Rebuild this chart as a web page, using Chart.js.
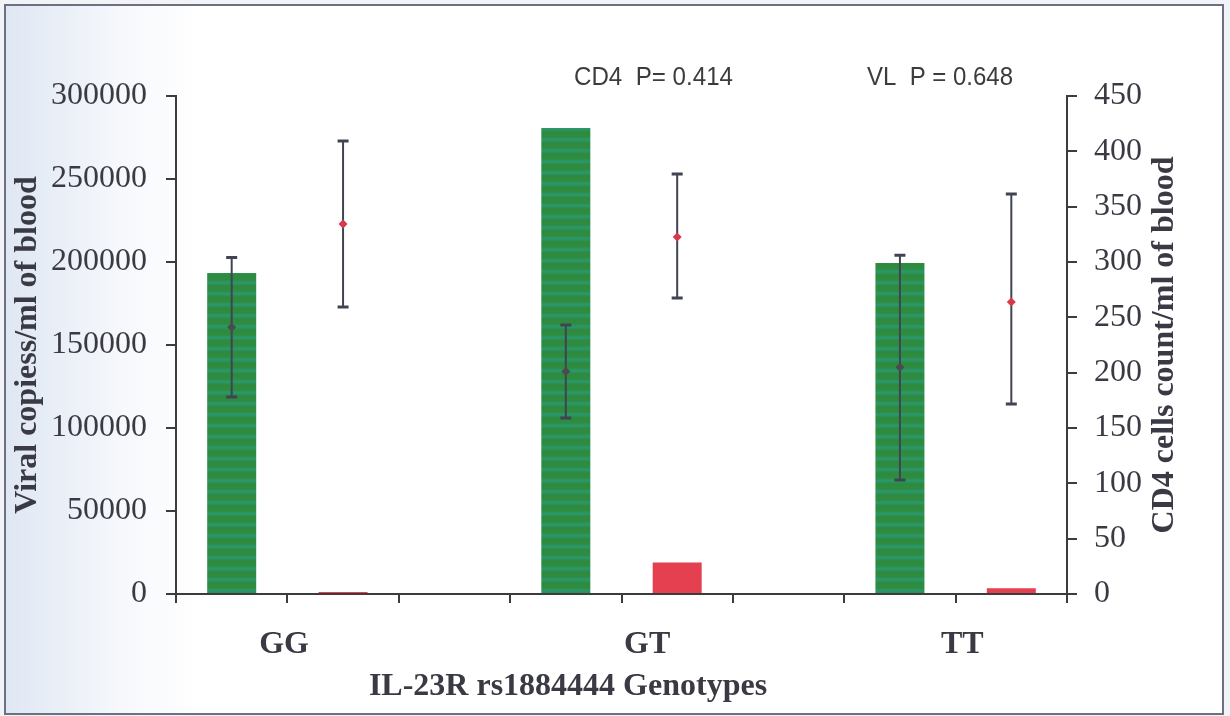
<!DOCTYPE html>
<html><head><meta charset="utf-8">
<script src="https://cdn.jsdelivr.net/npm/chart.js@4.4.1/dist/chart.umd.min.js"></script>
<style>html,body{margin:0;padding:0;background:#fff}#wrap{width:1230px;height:716px}</style>
</head><body><div id="wrap"><canvas id="c" width="1230" height="716"></canvas></div>
<script>
// ---------- data ----------
const slots = ['GG CD4', 'GG VL', '', 'GT CD4', 'GT VL', '', 'TT CD4', 'TT VL'];
const genotypes = ['GG', 'GT', 'TT'];
const cd4Bar = [290, 421, 299];          // right axis
const vlBar = [1200, 19000, 3500];       // left axis
const cd4Mean = [241, 201, 205];
const cd4Low = [178, 159, 103];
const cd4High = [304, 243, 306];
const vlMean = [222900, 215000, 175900];
const vlLow = [172900, 178300, 114500];
const vlHigh = [272900, 253000, 241000];
const leftTicks = [0, 50000, 100000, 150000, 200000, 250000, 300000];
const rightTicks = [0, 50, 100, 150, 200, 250, 300, 350, 400, 450];
const annotations = ['CD4  P= 0.414', 'VL  P = 0.648'];
const xTitle = 'IL-23R rs1884444 Genotypes';
const yTitle = 'Viral copiess/ml of blood';
const y1Title = 'CD4 cells count/ml of blood';

// ---------- helpers ----------
const toSlots = (arr, off) => slots.map((_, k) => (k % 3 === off ? arr[Math.floor(k / 3)] : null));
const canvas = document.getElementById('c');
const ctx = canvas.getContext('2d');
const pc = document.createElement('canvas'); pc.width = 4; pc.height = 11;
const pg = pc.getContext('2d');
const pgr = pg.createLinearGradient(0, 0, 0, 11);
pgr.addColorStop(0, '#2e8a3c');
pgr.addColorStop(0.45, '#2e8d42');
pgr.addColorStop(0.7, '#2a9870');
pgr.addColorStop(1, '#2e8a3c');
pg.fillStyle = pgr; pg.fillRect(0, 0, 4, 11);
const greenPattern = ctx.createPattern(pc, 'repeat');

const AX = '#3c3c3c';
const TXT = '#3a3a44';
const SERIF = '"Liberation Serif", "DejaVu Serif", serif';
const SANS = '"Liberation Sans", Arial, sans-serif';

const errSeries = {
  2: { mean: cd4Mean, low: cd4Low, high: cd4High, off: 0, axis: 'y1' },
  3: { mean: vlMean, low: vlLow, high: vlHigh, off: 1, axis: 'y' }
};

const deco = {
  id: 'deco',
  beforeDraw(chart) {
    const c = chart.ctx;
    c.save();
    c.fillStyle = '#f1f3f7';
    c.fillRect(0, 0, 1230, 716);
    const g = c.createLinearGradient(5, 0, 200, 0);
    g.addColorStop(0, '#dfe7f3');
    g.addColorStop(0.6, '#f6f8fc');
    g.addColorStop(1, '#ffffff');
    c.fillStyle = g;
    c.fillRect(5, 5, 1218, 709);
    c.strokeStyle = '#6c7080';
    c.lineWidth = 2;
    c.strokeRect(5, 5, 1218, 709);
    c.restore();
  },
  beforeDatasetDraw(chart, args) {
    const es = errSeries[args.index];
    if (!es) return;
    const c = chart.ctx, x = chart.scales.x, y = chart.scales[es.axis];
    c.save();
    c.strokeStyle = '#404452';
    es.mean.forEach((m, i) => {
      const px = x.getPixelForValue(i * 3 + es.off);
      const top = y.getPixelForValue(es.high[i]);
      const bot = y.getPixelForValue(es.low[i]);
      c.lineWidth = 2;
      c.beginPath(); c.moveTo(px, top); c.lineTo(px, bot); c.stroke();
      c.lineWidth = 3;
      c.beginPath();
      c.moveTo(px - 5.5, top); c.lineTo(px + 5.5, top);
      c.moveTo(px - 5.5, bot); c.lineTo(px + 5.5, bot);
      c.stroke();
    });
    c.restore();
  },
  afterDraw(chart) {
    const c = chart.ctx, x = chart.scales.x, area = chart.chartArea;
    const midY = (area.top + area.bottom) / 2;
    c.save();
    c.fillStyle = TXT;
    c.textAlign = 'center';
    c.textBaseline = 'middle';
    // axis titles (both read bottom-to-top)
    c.font = 'bold 32px ' + SERIF;
    [[28, yTitle], [1165, y1Title]].forEach(([tx, t]) => {
      c.save(); c.translate(tx, midY); c.rotate(-Math.PI / 2); c.fillText(t, 0, 0); c.restore();
    });
    // genotype labels
    const labelPos = [0.47, 3.73, 6.56];
    c.font = 'bold 32px ' + SERIF;
    genotypes.forEach((gname, i) => c.fillText(gname, x.getPixelForValue(labelPos[i]), 645));
    c.font = 'bold 32px ' + SERIF;
    c.fillText(xTitle, 568, 687);
    // p-value annotations
    c.font = '26px ' + SANS;
    c.textAlign = 'left';
    c.fillStyle = '#3c3c3c';
    [[574, 159], [867, 146]].forEach(([ax, w], i) => {
      const mw = c.measureText(annotations[i]).width;
      c.save(); c.translate(ax, 78); c.scale(w / mw, 1); c.fillText(annotations[i], 0, 0); c.restore();
    });
    c.restore();
  }
};

new Chart(ctx, {
  data: {
    labels: slots,
    datasets: [
      { type: 'bar', data: toSlots(cd4Bar, 0), yAxisID: 'y1', backgroundColor: greenPattern,
        grouped: false, barPercentage: 0.44, categoryPercentage: 1, order: 3 },
      { type: 'bar', data: toSlots(vlBar, 1), yAxisID: 'y', backgroundColor: '#e4404f',
        grouped: false, barPercentage: 0.44, categoryPercentage: 1, order: 3 },
      { type: 'line', data: toSlots(cd4Mean, 0), yAxisID: 'y1', showLine: false,
        pointStyle: 'rectRot', pointRadius: 4.5, pointBackgroundColor: '#4a4a50',
        pointBorderColor: '#4a4a50', pointBorderWidth: 0, order: 1 },
      { type: 'line', data: toSlots(vlMean, 1), yAxisID: 'y', showLine: false,
        pointStyle: 'rectRot', pointRadius: 4.5, pointBackgroundColor: '#d8384a',
        pointBorderColor: '#d8384a', pointBorderWidth: 0, order: 1 }
    ]
  },
  options: {
    responsive: false,
    animation: false,
    devicePixelRatio: 1,
    layout: { padding: { top: 96, left: 0, right: 0, bottom: 0 } },
    plugins: { legend: { display: false }, tooltip: { enabled: false } },
    scales: {
      x: {
        type: 'category', offset: true,
        grid: { offset: true, drawOnChartArea: false, tickLength: 9, color: AX, lineWidth: 2 },
        border: { color: AX, width: 2 },
        ticks: { display: false },
        afterFit: s => { s.height = 122; }
      },
      y: {
        type: 'linear', position: 'left', min: 0, max: 300000,
        afterBuildTicks: s => { s.ticks = leftTicks.map(v => ({ value: v })); },
        ticks: { color: TXT, font: { family: SERIF, size: 32 }, padding: 19, callback: v => String(v) },
        grid: { drawOnChartArea: false, tickLength: 10, color: AX, lineWidth: 2 },
        border: { color: AX, width: 2 },
        afterFit: s => { s.width = 176; }
      },
      y1: {
        type: 'linear', position: 'right', min: 0, max: 450,
        afterBuildTicks: s => { s.ticks = rightTicks.map(v => ({ value: v })); },
        ticks: { color: TXT, font: { family: SERIF, size: 32 }, padding: 17, callback: v => String(v) },
        grid: { drawOnChartArea: false, tickLength: 10, color: AX, lineWidth: 2 },
        border: { color: AX, width: 2 },
        afterFit: s => { s.width = 163; }
      }
    }
  },
  plugins: [deco]
});
</script>
</body></html>
